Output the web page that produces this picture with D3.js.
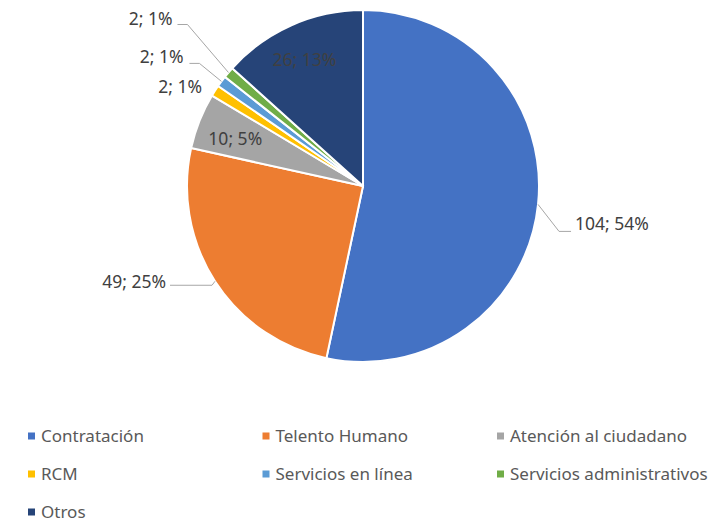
<!DOCTYPE html>
<html>
<head>
<meta charset="utf-8">
<script src="https://cdn.jsdelivr.net/npm/d3@7"></script>
<style>
  body { margin: 0; background: #fff; }
  text { font-family: "Noto Sans", sans-serif; }
</style>
</head>
<body>
<div id="chart"></div>
<script>
var categories = ["Contratación", "Telento Humano", "Atención al ciudadano", "RCM", "Servicios en línea", "Servicios administrativos", "Otros"];
var values = [104, 49, 10, 2, 2, 2, 26];
var percents = ["54%", "25%", "5%", "1%", "1%", "1%", "13%"];
var colors = ["#4472C4", "#ED7D31", "#A5A5A5", "#FFC000", "#5B9BD5", "#70AD47", "#264478"];

var width = 725, height = 524;
var cx = 363, cy = 186, radius = 176;

var svg = d3.select("#chart").append("svg")
    .attr("width", width)
    .attr("height", height);

var pie = d3.pie().sort(null).value(function(d) { return d; });
var arcs = pie(values);

var arc = d3.arc().innerRadius(0).outerRadius(radius);

var g = svg.append("g")
    .attr("transform", "translate(" + cx + "," + cy + ")");

g.selectAll("path")
  .data(arcs)
  .enter()
  .append("path")
    .attr("d", arc)
    .attr("fill", function(d, i) { return colors[i]; })
    .attr("stroke", "#fff")
    .attr("stroke-width", 2);

// label placement: inside (centroid at factor) or outside with leader
var labelSpec = [
  {type: "out", elbow: [21, 27], tail: 12, dx: 4, dy: -8, anchor: "start"},
  {type: "out", elbow: [-3, 4], tail: -42, dx: -4, dy: -3, anchor: "end"},
  {type: "in", f: 0.72, dx: -10, dy: 0},
  {type: "near", f: 1.0, dx: -13, dy: -4, anchor: "end"},
  {type: "out", elbow: [-22, -18], tail: -10, dx: -6, dy: -7, anchor: "end"},
  {type: "out", elbow: [-41, -48], tail: -10, dx: -5, dy: -6, anchor: "end"},
  {type: "in", f: 0.72, dx: -7, dy: -10}
];

function pt(d, f) {
  var a = (d.startAngle + d.endAngle) / 2;
  return [Math.sin(a) * radius * f, -Math.cos(a) * radius * f];
}

arcs.forEach(function(d, i) {
  var s = labelSpec[i];
  var txt = values[i] + "; " + percents[i];
  var lx, ly, anchor = "middle";
  if (s.type == "in") {
    var p = pt(d, s.f);
    lx = p[0] + s.dx; ly = p[1] + s.dy;
  } else if (s.type == "near") {
    var p = pt(d, s.f);
    lx = p[0] + s.dx; ly = p[1] + s.dy; anchor = s.anchor;
  } else {
    var p = pt(d, 1.0);
    var e = [p[0] + s.elbow[0], p[1] + s.elbow[1]];
    var t = [e[0] + s.tail, e[1]];
    g.append("polyline")
      .attr("points", [p, e, t].map(function(q) { return q.join(","); }).join(" "))
      .attr("fill", "none")
      .attr("stroke", "#A6A6A6")
      .attr("stroke-width", 1);
    lx = t[0] + s.dx; ly = t[1] + s.dy; anchor = s.anchor;
  }
  g.append("text")
    .attr("x", lx)
    .attr("y", ly)
    .attr("dy", "0.35em")
    .attr("text-anchor", anchor)
    .style("font-size", "17.5px")
    .style("fill", "#404040")
    .text(txt);
});

// legend
var legX = d3.scalePoint().domain([0, 1, 2]).range([28, 497]);
var legY = d3.scalePoint().domain([0, 1, 2]).range([436, 512]);

var leg = svg.selectAll(".leg")
  .data(categories)
  .enter()
  .append("g")
    .attr("class", "leg")
    .attr("transform", function(d, i) {
      return "translate(" + legX(i % 3) + "," + legY(Math.floor(i / 3)) + ")";
    });

leg.append("rect")
    .attr("x", 0)
    .attr("y", -3.5)
    .attr("width", 7)
    .attr("height", 7)
    .attr("fill", function(d, i) { return colors[i]; });

leg.append("text")
    .attr("x", 13)
    .attr("y", 0)
    .attr("dy", "0.35em")
    .style("font-size", "17px")
    .style("fill", "#595959")
    .text(function(d) { return d; });
</script>
</body>
</html>
